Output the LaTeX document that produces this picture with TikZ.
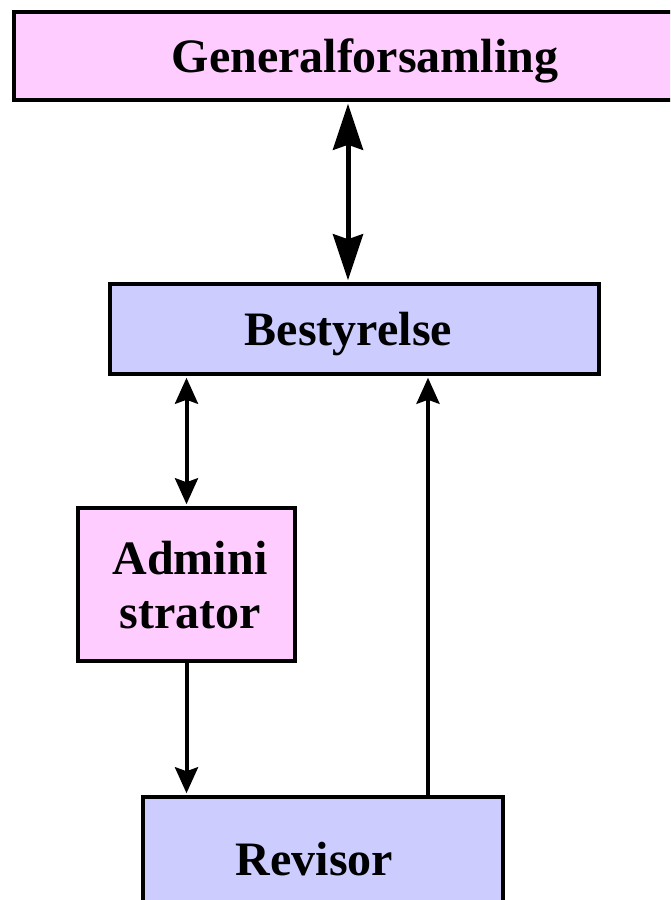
\documentclass[tikz,border=0pt]{standalone}
\usepackage{fontspec}
\setmainfont{Liberation Serif}
\usepackage{tikz}
\usetikzlibrary{arrows.meta, positioning, calc}

\definecolor{pinkfill}{RGB}{255,204,255}
\definecolor{bluefill}{RGB}{204,204,255}

\begin{document}
\begin{tikzpicture}[
    x=1pt, y=-1pt,
    box/.style={draw, line width=3.5pt, inner sep=0pt, align=center, text depth=0pt,
                font=\fontsize{48}{54}\selectfont\bfseries},
    pinkbox/.style={box, fill=pinkfill},
    bluebox/.style={box, fill=bluefill},
    bigarrow/.style={{Stealth[length=46pt, width=30pt, inset=5pt]}-{Stealth[length=46pt, width=30pt, inset=5pt]},
                     line width=5pt, shorten <=2pt, shorten >=2pt},
    arrow/.style={-{Stealth[length=26pt, width=23pt, inset=4pt]}, line width=4pt, shorten >=2pt},
    twoway/.style={arrow, {Stealth[length=26pt, width=23pt, inset=4pt]}-{Stealth[length=26pt, width=23pt, inset=4pt]}, shorten <=2pt},
]
    \useasboundingbox (0,0) rectangle (670,900);
    \clip (0,0) rectangle (670,900);

    \node[pinkbox, minimum width=702pt, minimum height=88pt] (general) at (365,56) {Generalforsamling};
    \node[bluebox, minimum width=489pt, minimum height=90pt] (bestyrelse) at (354.5,329) {Bestyrelse\hspace*{12pt}};
    \node[pinkbox, minimum width=217pt, minimum height=153pt] (admin) at (186.5,584.5) {\hspace*{7pt}Admini\\\hspace*{7pt}strator};
    \node[bluebox, minimum width=360pt, minimum height=124pt] (revisor) at (323,859) {Revisor\hspace*{17pt}};

    \draw[bigarrow] (general.south -| 348,0) -- ([xshift=-6.5pt]bestyrelse.north);
    \draw[twoway] (bestyrelse.south -| admin.north) -- (admin.north);
    \draw[arrow] (admin.south) -- (revisor.north -| admin.south);
    \draw[arrow] ([xshift=105pt]revisor.north) -- (bestyrelse.south -| 428,0);
\end{tikzpicture}
\end{document}
